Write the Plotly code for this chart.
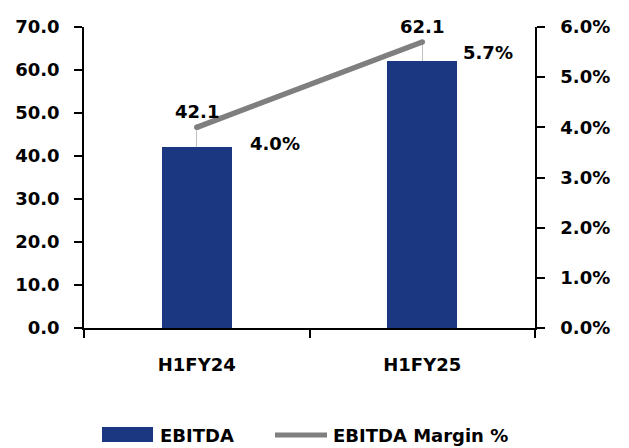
import plotly.graph_objects as go

periods = ['H1FY24', 'H1FY25']
ebitda = [42.1, 62.1]
ebitda_margin = [4.0, 5.7]

left_ticks = [0, 10, 20, 30, 40, 50, 60, 70]
right_ticks = [0, 1, 2, 3, 4, 5, 6]

BAR_COLOR = '#1B3781'
LINE_COLOR = '#7F7F7F'
FONT = dict(family='DejaVu Sans', size=18, color='black', weight='bold')

LEFT_MAX = 70
RIGHT_MAX = 6

fig = go.Figure()

# leader from bar top up to the margin point (converted to left-axis units)
leader = [m * LEFT_MAX / RIGHT_MAX - v for m, v in zip(ebitda_margin, ebitda)]

fig.add_trace(go.Bar(
    x=periods, y=ebitda, name='EBITDA',
    marker=dict(color=BAR_COLOR, line=dict(width=0)),
    width=0.31,
    error_y=dict(type='data', symmetric=False, array=leader, arrayminus=[0, 0],
                 width=0, thickness=1, color='#BFBFBF'),
    showlegend=False,
))

fig.add_trace(go.Scatter(
    x=periods, y=ebitda_margin, name='EBITDA Margin %', yaxis='y2',
    mode='lines+markers',
    line=dict(color=LINE_COLOR, width=5.5),
    marker=dict(color=LINE_COLOR, size=5.5),
    showlegend=False,
))

# bar value labels sit above the margin line points
for p, v, m in zip(periods, ebitda, ebitda_margin):
    fig.add_annotation(x=p, y=m, yref='y2', text=f'{v:.1f}', showarrow=False,
                       font=FONT, yshift=16)

margin_shifts = [(78, -16), (66, -10)]
for p, m, (dx, dy) in zip(periods, ebitda_margin, margin_shifts):
    fig.add_annotation(x=p, y=m, yref='y2', text=f'{m:.1f}%', showarrow=False,
                       font=FONT, xshift=dx, yshift=dy)

# manual legend
fig.add_shape(type='rect', xref='paper', yref='paper',
              x0=(102 - 84) / 451, x1=(153 - 84) / 451,
              y0=(328 - 442) / 301, y1=(328 - 427) / 301,
              fillcolor=BAR_COLOR, line=dict(width=0))
fig.add_annotation(xref='paper', yref='paper', x=(158 - 84) / 451, y=(328 - 435) / 301,
                   text='EBITDA', showarrow=False, xanchor='left', yanchor='middle',
                   font=FONT)
fig.add_shape(type='line', xref='paper', yref='paper',
              x0=(275 - 84) / 451, x1=(327 - 84) / 451,
              y0=(328 - 435) / 301, y1=(328 - 435) / 301,
              line=dict(color=LINE_COLOR, width=5))
fig.add_annotation(xref='paper', yref='paper', x=(331 - 84) / 451, y=(328 - 435) / 301,
                   text='EBITDA Margin %', showarrow=False, xanchor='left', yanchor='middle',
                   font=FONT)

axis_common = dict(showgrid=False, zeroline=False, showline=True, linecolor='black',
                   linewidth=1.5, ticks='outside', ticklen=8, tickcolor='black',
                   tickwidth=1.5, tickfont=FONT, automargin=False)

fig.update_layout(
    width=629, height=448,
    margin=dict(l=84, r=94, t=27, b=120),
    plot_bgcolor='white', paper_bgcolor='white',
    bargap=0,
    xaxis=dict(axis_common, type='category', tickson='boundaries',
               ticklabelstandoff=20),
    yaxis=dict(axis_common, range=[0, LEFT_MAX], tickvals=left_ticks,
               ticktext=[f'{t:.1f}' for t in left_ticks], ticklabelstandoff=11),
    yaxis2=dict(axis_common, range=[0, RIGHT_MAX], overlaying='y', side='right',
                tickvals=right_ticks, ticktext=[f'{t:.1f}%' for t in right_ticks],
                ticklabelstandoff=12),
    showlegend=False,
)

fig.write_html('out.html', config={'displayModeBar': False},
               post_script="document.body.style.margin='0';")
